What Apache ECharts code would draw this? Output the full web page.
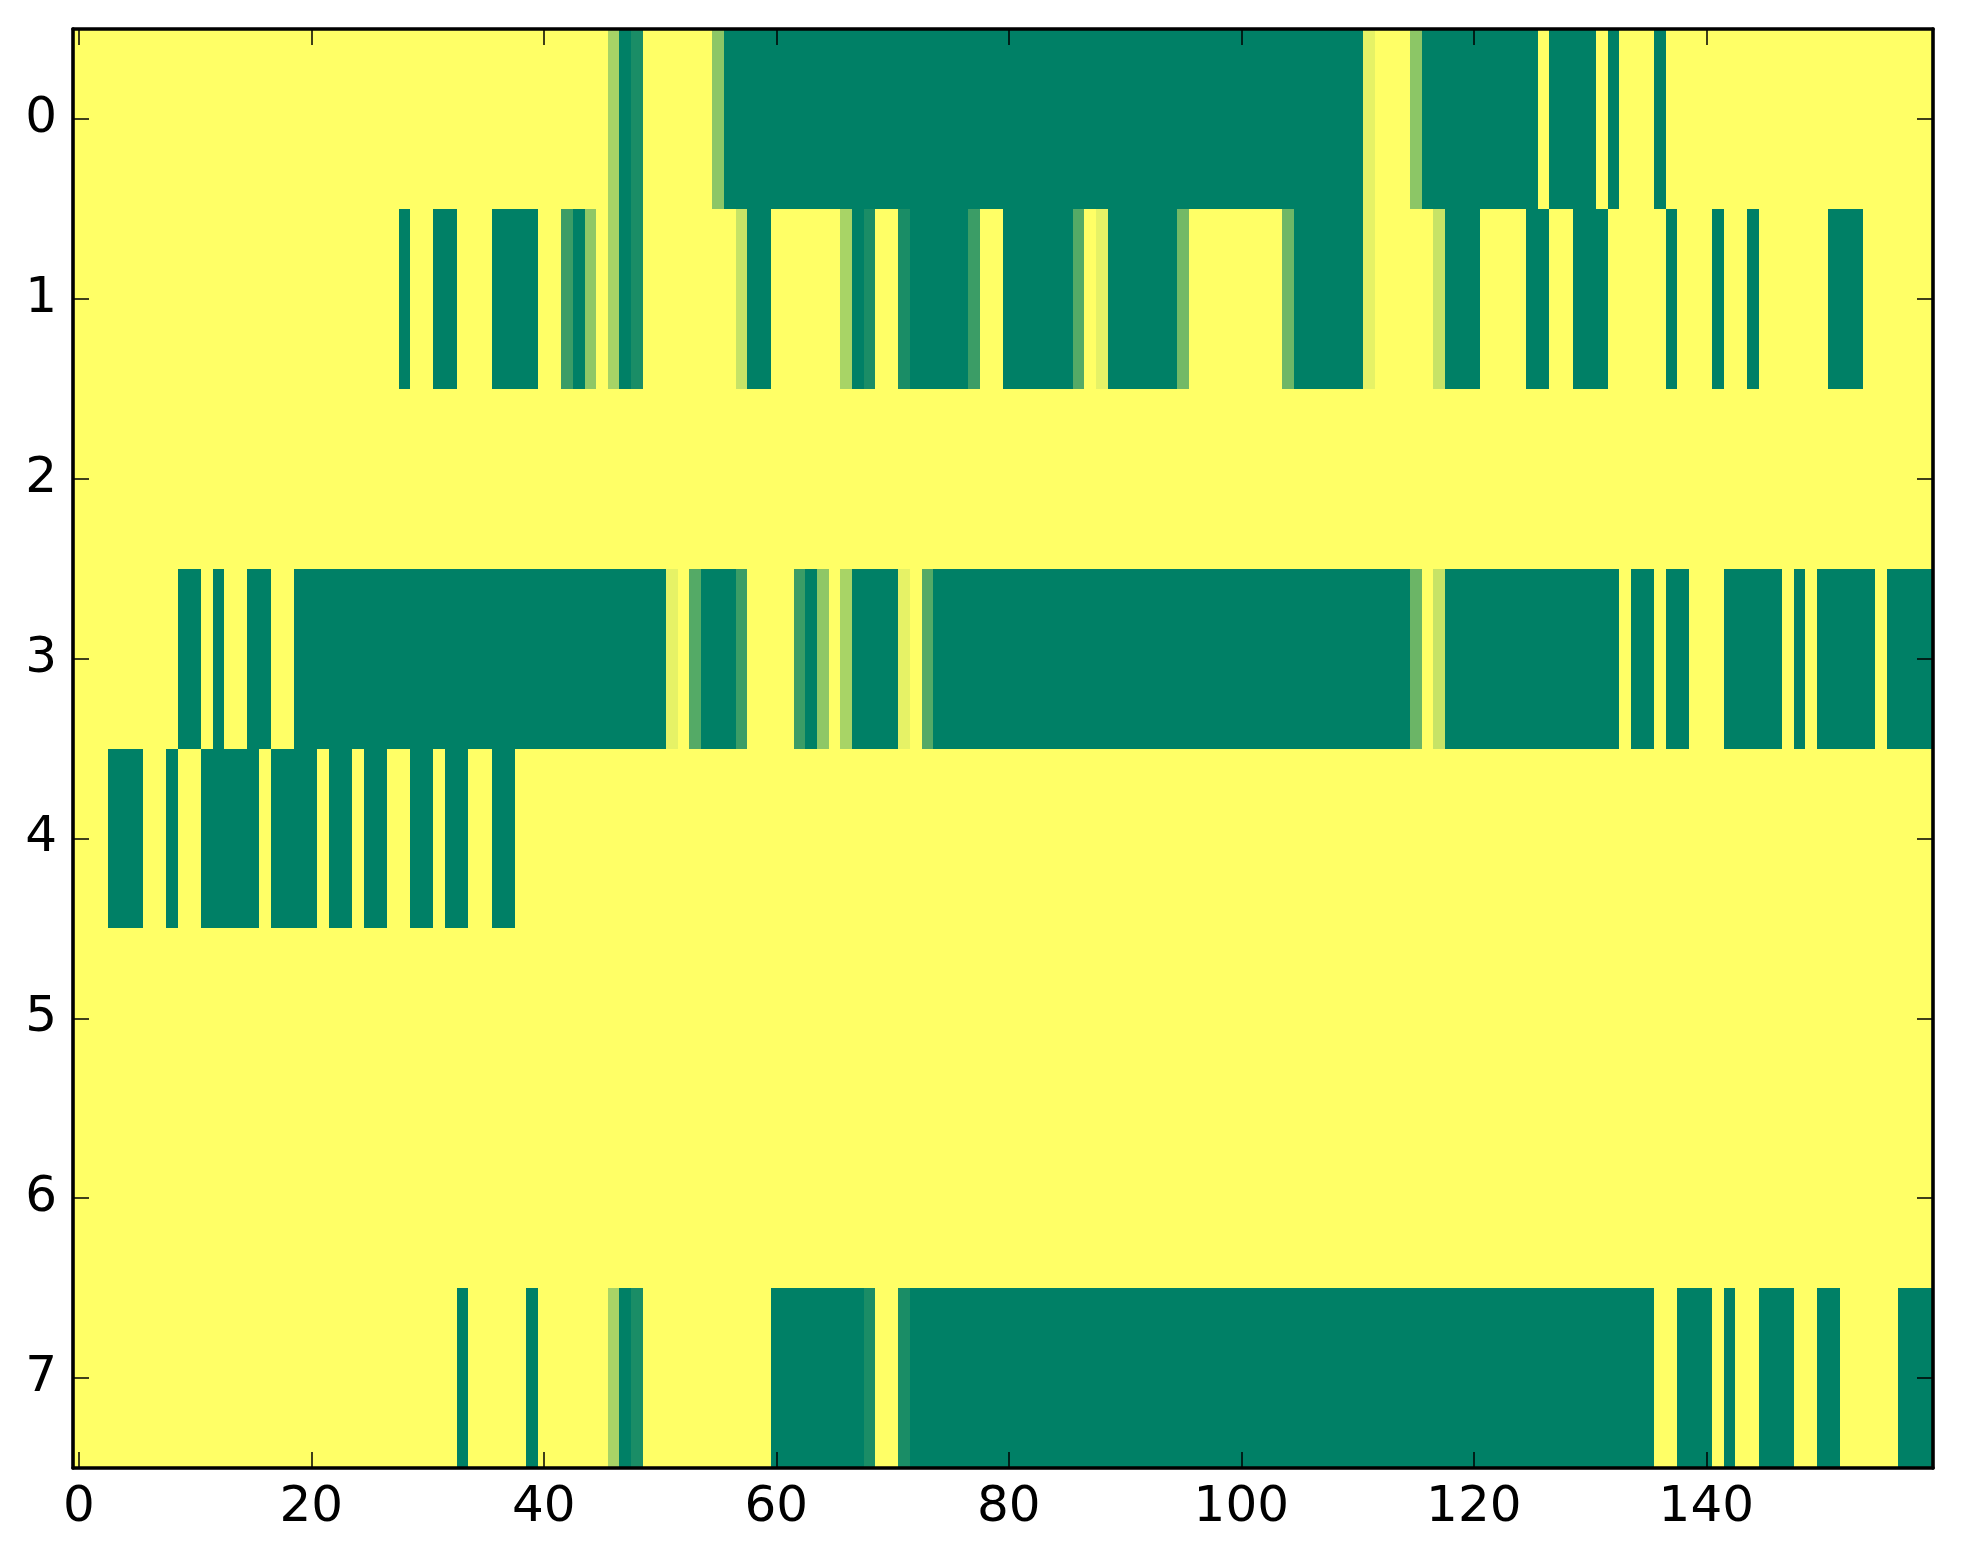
<!DOCTYPE html>
<html>
<head>
<meta charset="utf-8">
<script src="https://cdn.jsdelivr.net/npm/echarts@6/dist/echarts.min.js"></script>
<style>
html,body{margin:0;padding:0;background:#fff;}
#chart{width:1963px;height:1564px;}
</style>
</head>
<body>
<div id="chart"></div>
<script>
// Column categories (0..159) and row categories (0..7)
var xCategories = [];
for (var i = 0; i < 160; i++) { xCategories.push(String(i)); }
var yCategories = ['0','1','2','3','4','5','6','7'];
var xTickLabels = ['0','20','40','60','80','100','120','140'];

// Cell values per row (0 = green, 1 = yellow)
var row0 = [
  1,1,1,1,1,1,1,1,1,1, 1,1,1,1,1,1,1,1,1,1, 1,1,1,1,1,1,1,1,1,1, 1,1,1,1,1,1,1,1,1,1,
  1,1,1,1,1,1,0.65,0,0.1,1, 1,1,1,1,1,0.55,0,0,0,0, 0,0,0,0,0,0,0,0,0,0, 0,0,0,0,0,0,0,0,0,0,
  0,0,0,0,0,0,0,0,0,0, 0,0,0,0,0,0,0,0,0,0, 0,0,0,0,0,0,0,0,0,0, 0,0.9,1,1,1,0.55,0,0,0,0,
  0,0,0,0,0,0,1,0,0,0, 0,1,0,1,1,1,0,1,1,1, 1,1,1,1,1,1,1,1,1,1, 1,1,1,1,1,1,1,1,1,1
];
var row1 = [
  1,1,1,1,1,1,1,1,1,1, 1,1,1,1,1,1,1,1,1,1, 1,1,1,1,1,1,1,1,0,1, 1,0,0,1,1,1,0,0,0,0,
  1,1,0.23,0,0.56,1,0.65,0,0.1,1, 1,1,1,1,1,1,1,0.78,0,0, 1,1,1,1,1,1,0.66,0,0.1,1, 1,0.1,0,0,0,0,0,0.23,1,1,
  0,0,0,0,0,0,0.33,1,0.9,0, 0,0,0,0,0,0.45,1,1,1,1, 1,1,1,1,0.43,0,0,0,0,0, 0,0.9,1,1,1,1,1,0.78,0,0,
  0,1,1,1,1,0,0,1,1,0, 0,0,1,1,1,1,1,0,1,1, 1,0,1,1,0,1,1,1,1,1, 1,0,0,0,1,1,1,1,1,1
];
var row2 = [
  1,1,1,1,1,1,1,1,1,1, 1,1,1,1,1,1,1,1,1,1, 1,1,1,1,1,1,1,1,1,1, 1,1,1,1,1,1,1,1,1,1,
  1,1,1,1,1,1,1,1,1,1, 1,1,1,1,1,1,1,1,1,1, 1,1,1,1,1,1,1,1,1,1, 1,1,1,1,1,1,1,1,1,1,
  1,1,1,1,1,1,1,1,1,1, 1,1,1,1,1,1,1,1,1,1, 1,1,1,1,1,1,1,1,1,1, 1,1,1,1,1,1,1,1,1,1,
  1,1,1,1,1,1,1,1,1,1, 1,1,1,1,1,1,1,1,1,1, 1,1,1,1,1,1,1,1,1,1, 1,1,1,1,1,1,1,1,1,1
];
var row3 = [
  1,1,1,1,1,1,1,1,1,0, 0,1,0,1,1,0,0,1,1,0, 0,0,0,0,0,0,0,0,0,0, 0,0,0,0,0,0,0,0,0,0,
  0,0,0,0,0,0,0,0,0,0, 0,0.9,1,0.33,0,0,0,0.23,1,1, 1,1,0.23,0,0.56,1,0.66,0,0,0, 0,0.9,1,0.33,0,0,0,0,0,0,
  0,0,0,0,0,0,0,0,0,0, 0,0,0,0,0,0,0,0,0,0, 0,0,0,0,0,0,0,0,0,0, 0,0,0,0,0,0.42,1,0.78,0,0,
  0,0,0,0,0,0,0,0,0,0, 0,0,0,1,0,0,1,0,0,1, 1,1,0,0,0,0,0,1,0,1, 0,0,0,0,0,1,0,0,0,0
];
var row4 = [
  1,1,1,0,0,0,1,1,0,1, 1,0,0,0,0,0,1,0,0,0, 0,1,0,0,1,0,0,1,1,0, 0,1,0,0,1,1,0,0,1,1,
  1,1,1,1,1,1,1,1,1,1, 1,1,1,1,1,1,1,1,1,1, 1,1,1,1,1,1,1,1,1,1, 1,1,1,1,1,1,1,1,1,1,
  1,1,1,1,1,1,1,1,1,1, 1,1,1,1,1,1,1,1,1,1, 1,1,1,1,1,1,1,1,1,1, 1,1,1,1,1,1,1,1,1,1,
  1,1,1,1,1,1,1,1,1,1, 1,1,1,1,1,1,1,1,1,1, 1,1,1,1,1,1,1,1,1,1, 1,1,1,1,1,1,1,1,1,1
];
var row5 = [
  1,1,1,1,1,1,1,1,1,1, 1,1,1,1,1,1,1,1,1,1, 1,1,1,1,1,1,1,1,1,1, 1,1,1,1,1,1,1,1,1,1,
  1,1,1,1,1,1,1,1,1,1, 1,1,1,1,1,1,1,1,1,1, 1,1,1,1,1,1,1,1,1,1, 1,1,1,1,1,1,1,1,1,1,
  1,1,1,1,1,1,1,1,1,1, 1,1,1,1,1,1,1,1,1,1, 1,1,1,1,1,1,1,1,1,1, 1,1,1,1,1,1,1,1,1,1,
  1,1,1,1,1,1,1,1,1,1, 1,1,1,1,1,1,1,1,1,1, 1,1,1,1,1,1,1,1,1,1, 1,1,1,1,1,1,1,1,1,1
];
var row6 = [
  1,1,1,1,1,1,1,1,1,1, 1,1,1,1,1,1,1,1,1,1, 1,1,1,1,1,1,1,1,1,1, 1,1,1,1,1,1,1,1,1,1,
  1,1,1,1,1,1,1,1,1,1, 1,1,1,1,1,1,1,1,1,1, 1,1,1,1,1,1,1,1,1,1, 1,1,1,1,1,1,1,1,1,1,
  1,1,1,1,1,1,1,1,1,1, 1,1,1,1,1,1,1,1,1,1, 1,1,1,1,1,1,1,1,1,1, 1,1,1,1,1,1,1,1,1,1,
  1,1,1,1,1,1,1,1,1,1, 1,1,1,1,1,1,1,1,1,1, 1,1,1,1,1,1,1,1,1,1, 1,1,1,1,1,1,1,1,1,1
];
var row7 = [
  1,1,1,1,1,1,1,1,1,1, 1,1,1,1,1,1,1,1,1,1, 1,1,1,1,1,1,1,1,1,1, 1,1,1,0,1,1,1,1,1,0,
  1,1,1,1,1,1,0.66,0,0.1,1, 1,1,1,1,1,1,1,1,1,1, 0,0,0,0,0,0,0,0,0.1,1, 1,0.1,0,0,0,0,0,0,0,0,
  0,0,0,0,0,0,0,0,0,0, 0,0,0,0,0,0,0,0,0,0, 0,0,0,0,0,0,0,0,0,0, 0,0,0,0,0,0,0,0,0,0,
  0,0,0,0,0,0,0,0,0,0, 0,0,0,0,0,0,1,1,0,0, 0,1,0,1,1,0,0,0,1,1, 0,0,1,1,1,1,1,0,0,0
];
var rows = [row0, row1, row2, row3, row4, row5, row6, row7];

var cellData = [];
rows.forEach(function (r, y) {
  r.forEach(function (v, x) { cellData.push([x, y, v]); });
});

var showTick = function (index, value) { return xTickLabels.indexOf(String(value)) >= 0; };
var FONT = 'DejaVu Sans';

var chart = echarts.init(document.getElementById('chart'), null, {renderer: 'canvas', devicePixelRatio: 1});
var axisLineStyle = {show: true, onZero: false, lineStyle: {color: '#000', width: 3.6}};
var tickStyle = {show: true, inside: true, length: 16, lineStyle: {color: '#000', width: 1.5}};

function renderCell(params, api) {
  var c = api.coord([api.value(0), api.value(1)]);
  var s = api.size([1, 1]);
  var x0 = Math.round(c[0] - s[0] / 2), x1 = Math.round(c[0] + s[0] / 2);
  var y0 = Math.round(c[1] - s[1] / 2), y1 = Math.round(c[1] + s[1] / 2);
  return {
    type: 'rect',
    shape: {x: x0, y: y0, width: x1 - x0, height: y1 - y0},
    style: {fill: api.visual('color'), stroke: null}
  };
}

chart.setOption({
  animation: false,
  backgroundColor: '#ffffff',
  grid: {left: 73, right: 30, top: 29, bottom: 96, containLabel: false},
  visualMap: {
    type: 'continuous', show: false, min: 0, max: 1, dimension: 2, seriesIndex: 0,
    inRange: {color: ['#008066', '#ffff66']}
  },
  xAxis: [{
    type: 'category', data: xCategories, position: 'bottom', z: 10,
    axisLine: axisLineStyle,
    axisTick: Object.assign({}, tickStyle, {alignWithLabel: true, interval: showTick}),
    axisLabel: {interval: showTick, margin: 15, color: '#000', fontSize: 50, fontFamily: FONT},
    splitLine: {show: false}
  }, {
    type: 'category', data: xCategories, position: 'top', z: 10,
    axisLine: axisLineStyle,
    axisTick: Object.assign({}, tickStyle, {alignWithLabel: true, interval: showTick}),
    axisLabel: {show: false},
    splitLine: {show: false}
  }],
  yAxis: [{
    type: 'category', data: yCategories, inverse: true, position: 'left', z: 10,
    axisLine: axisLineStyle,
    axisTick: Object.assign({}, tickStyle, {alignWithLabel: true}),
    axisLabel: {margin: 16, color: '#000', fontSize: 50, fontFamily: FONT},
    splitLine: {show: false}
  }, {
    type: 'category', data: yCategories, inverse: true, position: 'right', z: 10,
    axisLine: axisLineStyle,
    axisTick: Object.assign({}, tickStyle, {alignWithLabel: true}),
    axisLabel: {show: false},
    splitLine: {show: false}
  }],
  series: [{
    type: 'custom', xAxisIndex: 0, yAxisIndex: 0,
    renderItem: renderCell,
    encode: {x: 0, y: 1},
    data: cellData,
    clip: true,
    silent: true
  }]
});
</script>
</body>
</html>
